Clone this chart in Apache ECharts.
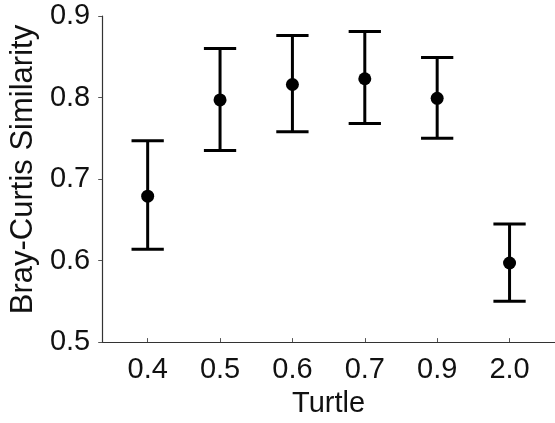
<!DOCTYPE html>
<html>
<head>
<meta charset="utf-8">
<script src="https://cdn.jsdelivr.net/npm/echarts@6/dist/echarts.min.js"></script>
<style>
html,body{margin:0;padding:0;background:#fff;}
#c{width:555px;height:423px;}
</style>
</head>
<body>
<div id="c"></div>
<script>
var categories = ['0.4', '0.5', '0.6', '0.7', '0.9', '2.0'];
var means = [0.679, 0.797, 0.816, 0.823, 0.799, 0.597];
var lower = [0.614, 0.735, 0.758, 0.768, 0.750, 0.550];
var upper = [0.747, 0.860, 0.876, 0.881, 0.849, 0.645];
var yTicks = [0.5, 0.6, 0.7, 0.8, 0.9];

var idx = categories.map(function (c, i) { return i; });
var pointData = means.map(function (m, i) { return [i, m]; });
var errData = means.map(function (m, i) { return [i, lower[i], upper[i]]; });

var chart = echarts.init(document.getElementById('c'), null, {renderer: 'canvas'});
var font = '"Liberation Sans", Arial, sans-serif';
var lineStyle = {stroke: '#000', lineWidth: 3};

chart.setOption({
  animation: false,
  backgroundColor: '#fff',
  grid: {left: 97.3, top: 16, bottom: 75.7, right: -1, containLabel: false},
  xAxis: {
    type: 'value',
    min: -0.628,
    max: 5.628,
    name: 'Turtle',
    nameLocation: 'middle',
    nameGap: 45,
    nameTextStyle: {fontFamily: font, fontSize: 29, color: '#111'},
    axisLine: {show: true, onZero: false, lineStyle: {color: '#333', width: 1.2}},
    axisTick: {show: true, inside: true, length: 4, customValues: idx, lineStyle: {color: '#555', width: 1}},
    axisLabel: {
      customValues: idx,
      margin: 13,
      fontFamily: font, fontSize: 29, color: '#111',
      formatter: function (v) { return categories[Math.round(v)]; }
    },
    splitLine: {show: false}
  },
  yAxis: {
    type: 'value',
    min: 0.5,
    max: 0.9,
    interval: 0.1,
    name: 'Bray-Curtis Similarity',
    nameLocation: 'middle',
    nameGap: 59,
    nameTextStyle: {fontFamily: font, fontSize: 31, color: '#111', padding: [0, 0, 0, 19]},
    axisLine: {show: true, onZero: false, lineStyle: {color: '#333', width: 1.2}},
    axisTick: {show: true, length: 4, lineStyle: {color: '#555', width: 1}},
    axisLabel: {
      margin: 12,
      fontFamily: font, fontSize: 29, color: '#111',
      formatter: function (v) { return v.toFixed(1); }
    },
    splitLine: {show: false}
  },
  series: [
    {
      type: 'custom',
      data: errData,
      renderItem: function (params, api) {
        var x = api.value(0);
        var lo = api.coord([x, api.value(1)]);
        var hi = api.coord([x, api.value(2)]);
        var hw = api.size([1, 0])[0] * 0.223;
        return {
          type: 'group',
          children: [
            {type: 'line', shape: {x1: lo[0], y1: lo[1], x2: hi[0], y2: hi[1]}, style: lineStyle},
            {type: 'line', shape: {x1: hi[0] - hw, y1: hi[1], x2: hi[0] + hw, y2: hi[1]}, style: lineStyle},
            {type: 'line', shape: {x1: lo[0] - hw, y1: lo[1], x2: lo[0] + hw, y2: lo[1]}, style: lineStyle}
          ]
        };
      },
      z: 2
    },
    {
      type: 'scatter',
      data: pointData,
      symbol: 'circle',
      symbolSize: 13,
      itemStyle: {color: '#000', opacity: 1},
      z: 3
    }
  ]
});
</script>
</body>
</html>
